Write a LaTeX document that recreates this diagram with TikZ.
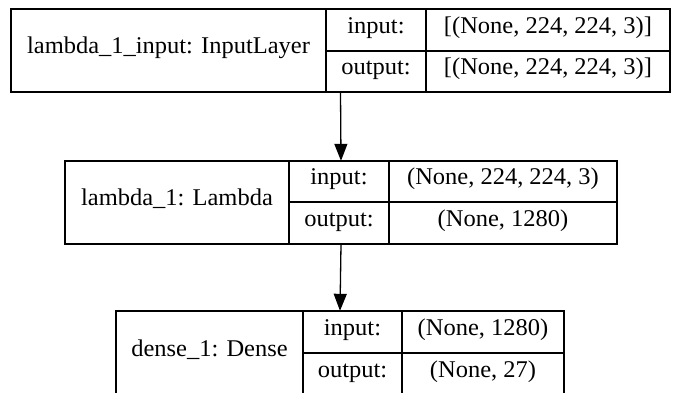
\documentclass[tikz,border=0pt]{standalone}
\usepackage{fontspec}
\setmainfont{Liberation Serif}[FakeStretch=1.02]
\usetikzlibrary{arrows.meta}
\begin{document}
\begin{tikzpicture}[x=1pt,y=-1pt,
  cellbox/.style 2 args={draw=black, line width=1.3pt, inner sep=0pt,
    minimum width=#1, minimum height=#2,
    font=\fontsize{24}{28}\selectfont, text height=0.84em, text depth=0.22em},
  frame/.style 2 args={inner sep=0pt, minimum width=#1, minimum height=#2},
  edge/.style={line width=1.3pt, -{Triangle[length=17pt,width=13pt]}}]
\useasboundingbox (0,0) rectangle (676,392);
\fill[white] (0,0) rectangle (676,392);
% box 1
\node[frame={659}{83}] (b1) at (340.5,50.5) {};
\node[cellbox={315}{83}] (n1) at (168.5,50.5) {lambda\_1\_input: InputLayer};
\node[cellbox={100}{42}] (i1) at (376,30) {input:};
\node[cellbox={100}{41}] (o1) at (376,71.5) {output:};
\node[cellbox={244}{42}] (iv1) at (548,30) {[(None, 224, 224, 3)]};
\node[cellbox={244}{41}] (ov1) at (548,71.5) {[(None, 224, 224, 3)]};
% box 2
\node[frame={552}{83}] (b2) at (341,202.5) {};
\node[cellbox={224}{83}] (n2) at (177,202.5) {lambda\_1: Lambda};
\node[cellbox={100}{41}] (i2) at (339,181.5) {input:};
\node[cellbox={100}{42}] (o2) at (339,223) {output:};
\node[cellbox={228}{41}] (iv2) at (503,181.5) {(None, 224, 224, 3)};
\node[cellbox={228}{42}] (ov2) at (503,223) {(None, 1280)};
% box 3
\node[frame={448}{84}] (b3) at (340,353) {};
\node[cellbox={187}{84}] (n3) at (209.5,353) {dense\_1: Dense};
\node[cellbox={99}{42}] (i3) at (352.5,332) {input:};
\node[cellbox={99}{42}] (o3) at (352.5,374) {output:};
\node[cellbox={162}{42}] (iv3) at (483,332) {(None, 1280)};
\node[cellbox={162}{42}] (ov3) at (483,374) {(None, 27)};
% edges
\draw[edge] (b1.south) -- (b2.north);
\draw[edge] (b2.south) -- (b3.north);
\end{tikzpicture}
\end{document}
